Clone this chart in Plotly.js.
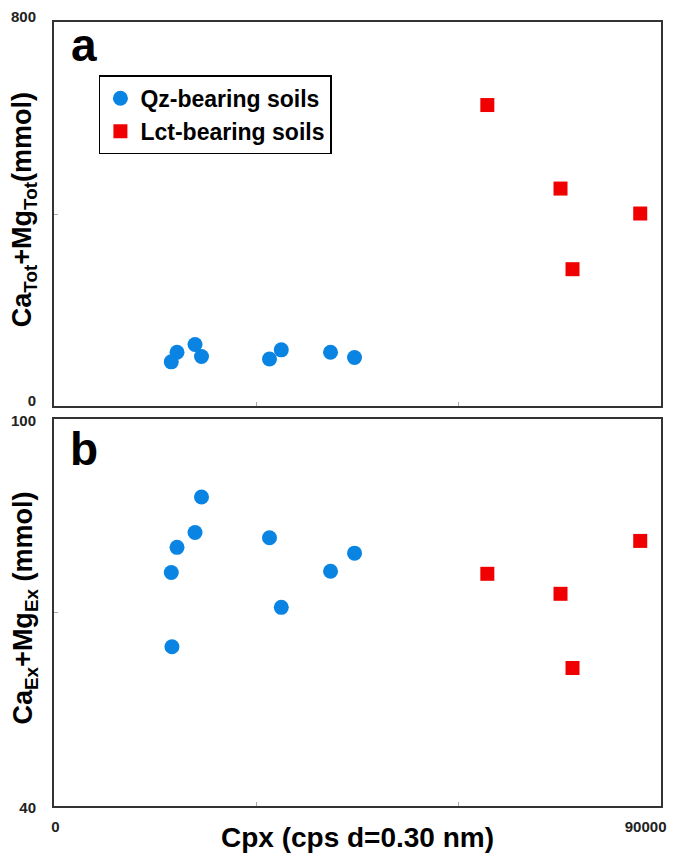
<!DOCTYPE html>
<html>
<head>
<meta charset="utf-8">
<script src="https://cdn.plot.ly/plotly-3.0.1.min.js"></script>
<style>html,body{margin:0;padding:0;background:#fff;}#chart{width:673px;height:853px;}</style>
</head>
<body>
<div id="chart"></div>
<script>
// ---- data ----
const qzCpxA = [17390, 18240, 20910, 21870, 31950, 33700, 41000, 44560];
const qzTotA = [92, 112, 128, 103, 98, 117, 112, 101];
const qzCpxB = [17390, 17490, 18240, 20910, 21870, 31950, 33700, 41000, 44560];
const qzExB  = [76.2, 64.7, 80.1, 82.4, 87.9, 81.6, 70.8, 76.4, 79.2];
const lctCpx = [64250, 75100, 76880, 86920];
const lctTot = [627, 453, 285, 401];
const lctEx  = [76.0, 72.9, 61.4, 81.1];

const seriesNames = ['Qz-bearing soils', 'Lct-bearing soils'];
const xTickVals = [0, 30000, 60000, 90000];
const xTickText = ['0', '', '', '90000'];
const yTotTickVals = [0, 400, 800];
const yTotTickText = ['0', '', '800'];
const yExTickVals = [40, 70, 100];
const yExTickText = ['40', '', '100'];

const FONT = 'Arial, "Liberation Sans", Helvetica, sans-serif';
const BLUE = '#0a84e2';
const RED = '#f00000';

const traces = [
  {x: qzCpxA, y: qzTotA, xaxis: 'x2', yaxis: 'y', mode: 'markers', type: 'scatter',
   name: seriesNames[0], legendgroup: 'qz',
   marker: {symbol: 'circle', size: 15, color: BLUE}},
  {x: lctCpx, y: lctTot, xaxis: 'x2', yaxis: 'y', mode: 'markers', type: 'scatter',
   name: seriesNames[1], legendgroup: 'lct',
   marker: {symbol: 'square', size: 14, color: RED}},
  {x: qzCpxB, y: qzExB, xaxis: 'x', yaxis: 'y2', mode: 'markers', type: 'scatter',
   name: seriesNames[0], legendgroup: 'qz', showlegend: false,
   marker: {symbol: 'circle', size: 15, color: BLUE}},
  {x: lctCpx, y: lctEx, xaxis: 'x', yaxis: 'y2', mode: 'markers', type: 'scatter',
   name: seriesNames[1], legendgroup: 'lct', showlegend: false,
   marker: {symbol: 'square', size: 14, color: RED}}
];

const axisCommon = {
  showline: true, mirror: true, linecolor: '#333', linewidth: 2,
  showgrid: false, zeroline: false,
  ticks: 'inside', ticklen: 4, tickcolor: '#aaa', tickwidth: 1,
  tickfont: {family: FONT, size: 15, color: '#222', weight: 'bold'},
  tickmode: 'array', automargin: false
};

const layout = {
  width: 673, height: 853,
  margin: {l: 54, r: 12, t: 22, b: 47},
  paper_bgcolor: '#fff', plot_bgcolor: '#fff',
  font: {family: FONT},
  showlegend: true,
  legend: {
    x: 0.074, y: 0.932, xanchor: 'left', yanchor: 'top',
    bordercolor: '#000', borderwidth: 1.5, bgcolor: '#fff',
    font: {family: FONT, size: 23, color: '#000', weight: 'bold'},
    itemwidth: 30, tracegroupgap: 0
  },
  xaxis: Object.assign({}, axisCommon, {
    anchor: 'y2', range: [0, 90000], tickvals: xTickVals, ticktext: xTickText,
    ticklabelposition: 'outside left', ticklabelshift: 7, ticklabelstandoff: 6,
    title: {text: 'Cpx (cps d=0.30 nm)', font: {family: FONT, size: 28, color: '#000', weight: 'bold'}, standoff: 2}
  }),
  xaxis2: Object.assign({}, axisCommon, {
    anchor: 'y', matches: 'x', range: [0, 90000], tickvals: xTickVals, showticklabels: false
  }),
  yaxis: Object.assign({}, axisCommon, {
    domain: [0.5102, 1], range: [0, 800], tickvals: yTotTickVals, ticktext: yTotTickText,
    ticklabelstandoff: 13, ticklabelshift: -5
  }),
  yaxis2: Object.assign({}, axisCommon, {
    domain: [0, 0.4936], range: [40, 100], tickvals: yExTickVals, ticktext: yExTickText,
    ticklabelstandoff: 13, ticklabelshift: 2
  }),
  annotations: [
    {text: 'a', xref: 'paper', yref: 'paper', x: 0.049, y: 0.971, xanchor: 'center', yanchor: 'middle',
     showarrow: false, font: {family: FONT, size: 46, color: '#000', weight: 'bold'}},
    {text: 'b', xref: 'paper', yref: 'paper', x: 0.049, y: 0.455, xanchor: 'center', yanchor: 'middle',
     showarrow: false, font: {family: FONT, size: 46, color: '#000', weight: 'bold'}},
    {text: 'Ca<sub>Tot</sub>+Mg<sub>Tot</sub>(mmol)', xref: 'paper', yref: 'paper', x: -0.048, y: 0.761,
     xanchor: 'center', yanchor: 'middle', textangle: -90, showarrow: false,
     font: {family: FONT, size: 27, color: '#000', weight: 'bold'}},
    {text: 'Ca<sub>Ex</sub>+Mg<sub>Ex</sub> (mmol)', xref: 'paper', yref: 'paper', x: -0.048, y: 0.253,
     xanchor: 'center', yanchor: 'middle', textangle: -90, showarrow: false,
     font: {family: FONT, size: 27, color: '#000', weight: 'bold'}}
  ]
};

Plotly.newPlot('chart', traces, layout, {displayModeBar: false, staticPlot: true});
</script>
</body>
</html>
